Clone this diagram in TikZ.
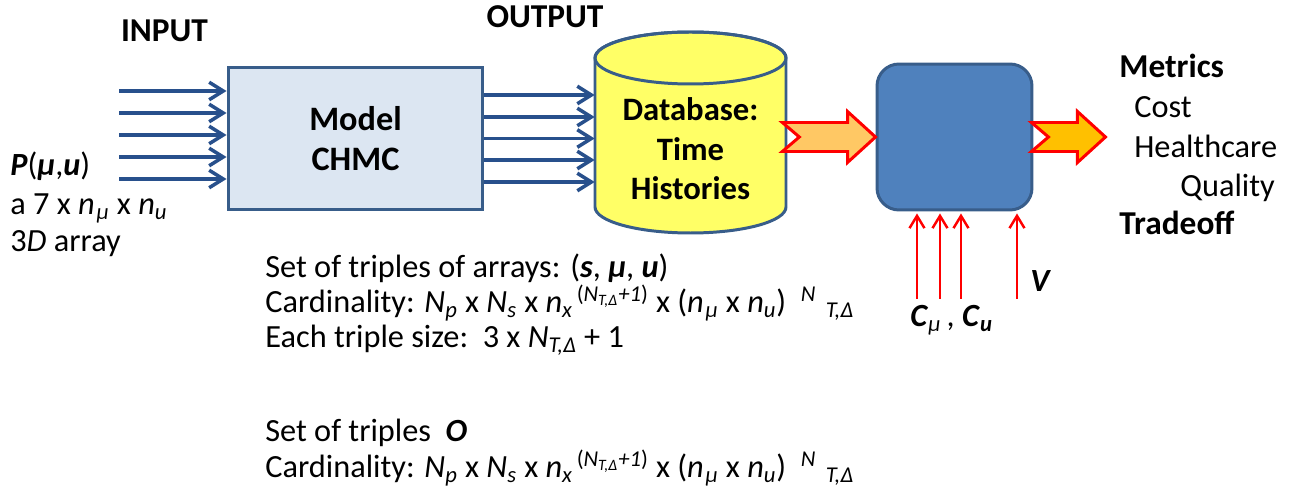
\documentclass[tikz,border=0pt]{standalone}
\usepackage{fontspec}
\setmainfont{Carlito}
\usetikzlibrary{arrows.meta,calc}

\definecolor{boxline}{RGB}{56,93,138}
\definecolor{arrowblue}{RGB}{40,80,140}
\definecolor{modelfill}{RGB}{220,230,242}
\definecolor{dbfill}{RGB}{255,255,102}
\definecolor{procfill}{RGB}{79,129,189}
\definecolor{fatlight}{RGB}{255,200,100}
\definecolor{fatdark}{RGB}{255,192,0}

\newcommand{\cardline}{Cardinality: \textit{N}\textsubscript{\textit{p}} x \textit{N}\textsubscript{\textit{s}} x \textit{n}\textsubscript{\textit{x}}\textsuperscript{\,(\textit{N}\textsubscript{\textit{T,Δ}}\textit{+1})} x (\textit{n}\textsubscript{\kern0.08em\textit{μ}} x \textit{n}\textsubscript{\textit{u}})\hspace{0.45em}\textsuperscript{\textit{N}}\hspace{0.3em}\textsubscript{\textit{T,Δ}}}

% notched block arrow: style, start, tip
\newcommand{\fatarrow}[3]{%
  \draw[#1] ($(#2)+(0,14.5)$) -- ($(#3)+(-28,14.5)$) -- ($(#3)+(-28,25.5)$) -- (#3)
    -- ($(#3)+(-28,-25.5)$) -- ($(#3)+(-28,-14.5)$) -- ($(#2)+(0,-14.5)$)
    -- ($(#2)+(17,0)$) -- cycle;}

\begin{document}
\begin{tikzpicture}[x=0.02cm, y=0.02cm, every node/.style={font=\fontsize{18.4}{22}\selectfont},
    headtext/.style={font=\fontsize{19}{22.5}\selectfont\bfseries},
    plain/.style={anchor=base west, inner sep=0pt},
    inarrow/.style={arrowblue, line width=2pt, -{Straight Barb[length=8pt,width=10pt]}},
    redin/.style={red, line width=1.4pt, -{Straight Barb[length=7pt,width=8.5pt]}},
    fat/.style={draw=red, line width=1.7pt}]
    \useasboundingbox (0,0) rectangle (1303,497);

    % Headings
    \node[headtext] (input) at (164.5,466.5) {INPUT};
    \node[headtext] (output) at (545,480) {OUTPUT};

    % Model
    \node[draw=boxline, line width=1.7pt, fill=modelfill, minimum width=5.1cm, minimum height=2.86cm,
          align=center, font=\fontsize{19.5}{22.7}\selectfont\bfseries] (model) at (355.5,358.5) {Model\\CHMC};

    % Input arrows
    \foreach \y [count=\i] in {406,384,362,340,318}{
        \coordinate (in\i) at (119,\y);
        \draw[inarrow] (in\i) -- (in\i -| model.west);
    }

    % Database cylinder
    \draw[boxline, line width=1.7pt, fill=dbfill] (595,439) -- (595,290)
        arc[start angle=180, end angle=360, x radius=95.5, y radius=26] -- (786,439)
        arc[start angle=0, end angle=180, x radius=95.5, y radius=26] -- cycle;
    \draw[boxline, line width=1.7pt] (690.5,439) ellipse [x radius=95.5, y radius=26];
    \node[minimum width=3.82cm, inner sep=0pt, align=center, font=\fontsize{18.6}{22.4}\selectfont\bfseries] (db) at (690.5,348) {Database:\\Time\\Histories};

    % Output arrows
    \foreach \y [count=\i] in {402,380,358.5,337,315}{
        \coordinate (out\i) at (520,\y);
        \draw[inarrow] (model.east |- out\i) -- (out\i -| db.west);
    }

    % Processing box
    \node[draw=boxline, line width=1.7pt, fill=procfill, rounded corners=0.44cm,
          minimum width=3.1cm, minimum height=2.92cm] (proc) at (954.5,360) {};

    % Block arrows
    \coordinate (f1s) at ($(db.east |- proc.west)+(-4,0)$);
    \fatarrow{fat, fill=fatlight}{f1s}{proc.west}
    \coordinate (f2s) at ($(proc.east)+(-2,0)$);
    \coordinate (f2t) at ($(proc.east)+(72,0)$);
    \fatarrow{fat, fill=fatdark}{f2s}{f2t}

    % Cost inputs
    \foreach \x [count=\i] in {917,940,961,1017}{
        \coordinate (c\i) at (\x,198);
        \draw[redin] (c\i) -- ($(c\i |- proc.south)+(0,-2)$);
    }
    \node[plain, font=\fontsize{18.4}{22}\selectfont\bfseries\itshape] (v) at (1030,205) {V};
    \node[plain] (cmu) at (910,170)
        {\textbf{\textit{C}}\textsubscript{\textit{μ}}\,,\ \textbf{\textit{C}}\textsubscript{\textbf{\textit{u}}}};

    % Metrics
    \node[plain, headtext] (metrics) at (1119,419) {Metrics};
    \node[plain] (cost) at (1134,379) {Cost};
    \node[plain] (health) at (1134,339) {Healthcare};
    \node[plain] (quality) at (1180,300) {Quality};
    \node[plain, headtext] (trade) at (1119,262) {Tradeoff};

    % Input description
    \node[plain] (pmu) at (10,321) {\textbf{\textit{P}}(\textbf{\textit{μ}},\textbf{\textit{u}})};
    \node[plain] (dims) at (10,282) {a 7 x \textit{n}\textsubscript{\kern0.08em\textit{μ}} x \textit{n}\textsubscript{\textit{u}}};
    \node[plain] (arr) at (10,245) {3\textit{D} array};

    % Output description
    \node[plain] (set1) at (265,219) {Set of triples of arrays: (\textbf{\textit{s}}, \textbf{\textit{μ}}, \textbf{\textit{u}})};
    \node[plain] (card1) at (265,184) {\cardline};
    \node[plain] (size) at (265,149) {Each triple size:\ \ 3 x \textit{N}\textsubscript{\textit{T,Δ}} + 1};
    \node[plain] (set2) at (265,55) {Set of triples\ \ \textbf{\textit{O}}};
    \node[plain] (card2) at (265,19) {\cardline};
\end{tikzpicture}
\end{document}
